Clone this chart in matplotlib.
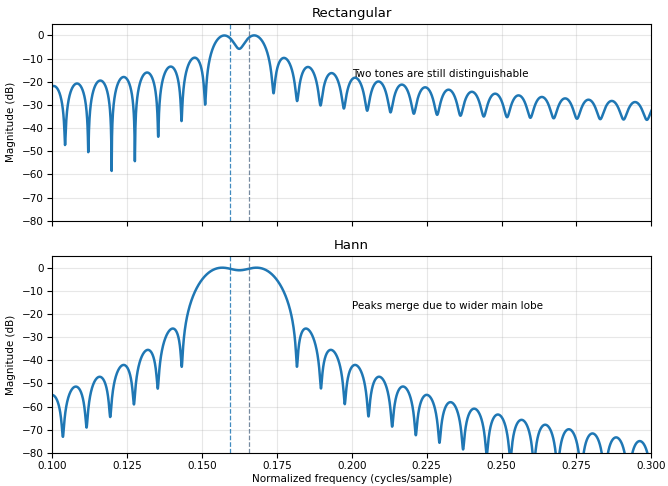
import numpy as np
import matplotlib
matplotlib.use("Agg")
import matplotlib.pyplot as plt

# signal parameters
tone_freqs = [0.159375, 0.165625]      # cycles/sample (dashed lines)
tone_amps = [1.0, 1.0]
n_samples = 128
nfft = 16384
windows = ["Rectangular", "Hann"]
notes = ["Two tones are still distinguishable", "Peaks merge due to wider main lobe"]

n = np.arange(n_samples)
x = sum(a * np.cos(2 * np.pi * f * n) for a, f in zip(tone_amps, tone_freqs))
freqs = np.fft.rfftfreq(nfft)


def spectrum_db(win):
    X = np.abs(np.fft.rfft(x * win, nfft))
    return 20 * np.log10(X / X.max() + 1e-12)


wins = {"Rectangular": np.ones(n_samples), "Hann": np.hanning(n_samples)}
marker_colors = ["tab:blue", "#5f7790"]

fig, axes = plt.subplots(2, 1, figsize=(6.68, 4.86), dpi=100, sharex=True)
for ax, name, note in zip(axes, windows, notes):
    ax.plot(freqs, spectrum_db(wins[name]), color="tab:blue", lw=1.8)
    for f, c in zip(tone_freqs, marker_colors):
        ax.axvline(f, color=c, ls="--", lw=0.9, alpha=0.85)
    ax.set_xlim(0.1, 0.3)
    ax.set_ylim(-80, 5)
    ax.set_title(name, fontsize=9.5, pad=5)
    ax.set_ylabel("Magnitude (dB)", fontsize=7.5)
    ax.tick_params(labelsize=7.5, pad=2.5)
    ax.grid(True, alpha=0.3)
    ax.text(0.2, -18, note, fontsize=7.5)
axes[1].set_xlabel("Normalized frequency (cycles/sample)", fontsize=7.5, labelpad=2)
axes[1].xaxis.set_major_formatter(matplotlib.ticker.FormatStrFormatter("%.3f"))

plt.subplots_adjust(left=0.078, right=0.975, top=0.951, bottom=0.068, hspace=0.18)
plt.savefig("out.png", dpi=100)
